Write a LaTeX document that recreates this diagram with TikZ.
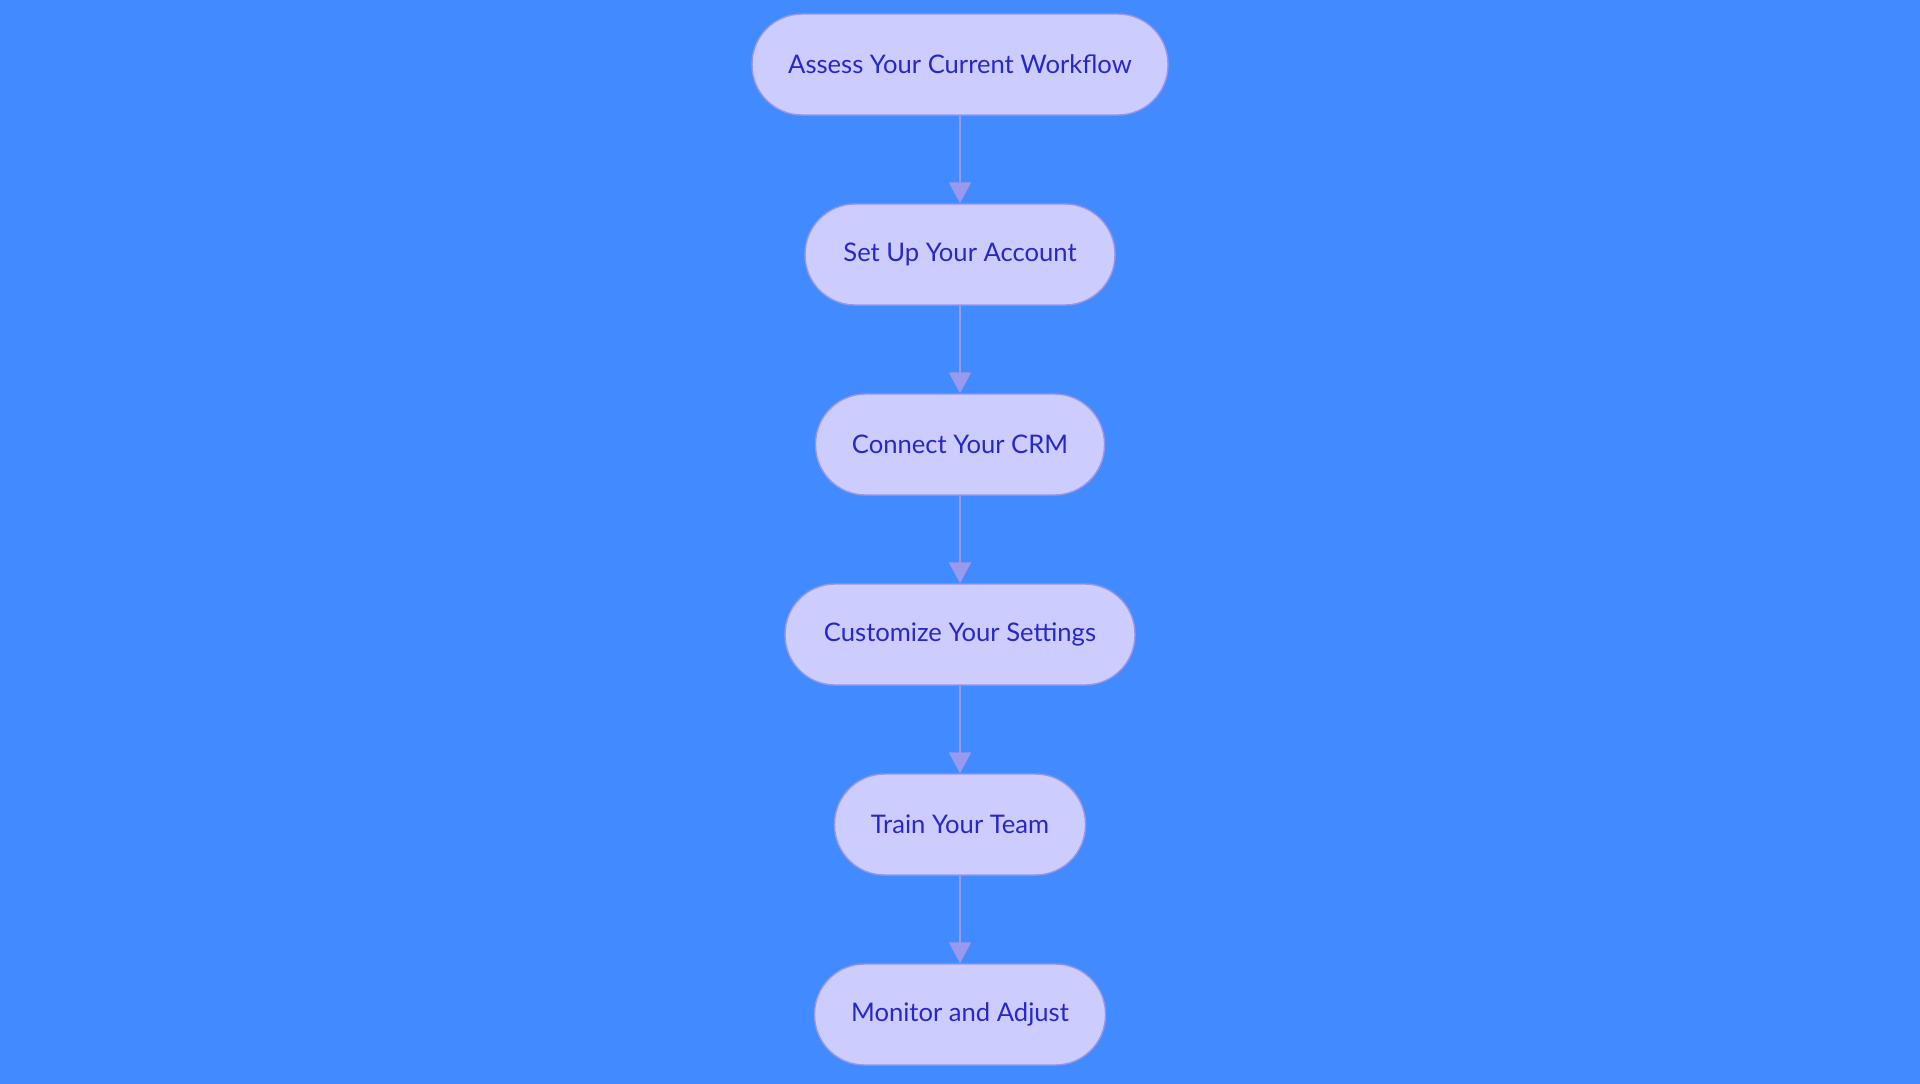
\documentclass[tikz,border=0pt]{standalone}
\usepackage{fontspec}
\setmainfont{Lato}
\usetikzlibrary{arrows.meta}

\definecolor{bgblue}{RGB}{65,138,255}
\definecolor{stepfill}{RGB}{204,204,255}
\definecolor{stepedge}{RGB}{150,150,232}
\definecolor{steptext}{RGB}{40,40,200}
\definecolor{flowline}{RGB}{153,153,238}

\tikzset{
  stepbox/.style={draw=stepedge, fill=stepfill, line width=0.7pt,
    rounded corners=25pt, minimum height=50.5pt, inner sep=0pt,
    text=steptext, font=\fontsize{12.8}{15}\selectfont},
  flow/.style={draw=flowline, line width=1.3pt,
    -{Triangle[width=11pt,length=10.5pt]}}
}

\begin{document}
\begin{tikzpicture}[x=0.5pt, y=-0.5pt]

%------------------ BACKGROUND ------------------%
\useasboundingbox (0,0) rectangle (1920,1083);
\fill[bgblue] (-20,-20) rectangle (1940,1103);

%------------------ STEPS ------------------%
\node[stepbox, minimum width=208pt]   (assess)    at (960,64.5)  {Assess Your Current Workflow};
\node[stepbox, minimum width=155pt]   (setup)     at (960,254.5) {Set Up Your Account};
\node[stepbox, minimum width=144.5pt] (connect)   at (960,444.5) {Connect Your CRM};
\node[stepbox, minimum width=175pt]   (customize) at (960,634.5) {Customize Your Settings};
\node[stepbox, minimum width=125.5pt] (train)     at (960,824.5) {Train Your Team};
\node[stepbox, minimum width=145.5pt] (monitor)   at (960,1014.5) {Monitor and Adjust};

%------------------ ARROWS ------------------%
\draw[flow] (assess) -- (setup);
\draw[flow] (setup) -- (connect);
\draw[flow] (connect) -- (customize);
\draw[flow] (customize) -- (train);
\draw[flow] (train) -- (monitor);

\end{tikzpicture}
\end{document}
